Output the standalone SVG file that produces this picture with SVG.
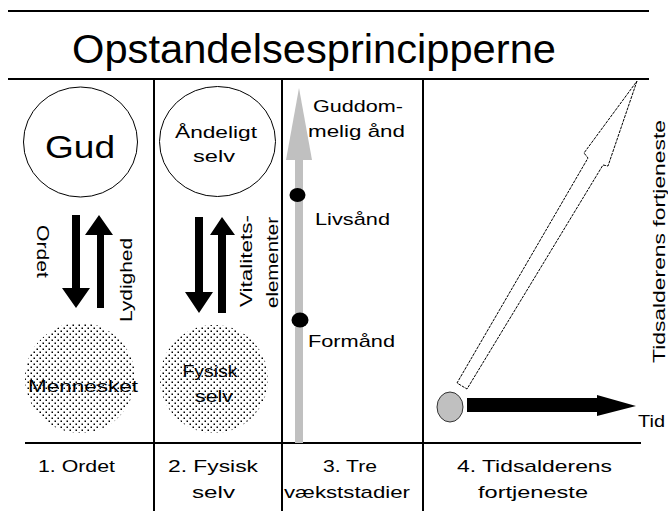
<svg xmlns="http://www.w3.org/2000/svg" width="668" height="511" viewBox="0 0 668 511">
<defs>
<pattern id="dots" width="6" height="6" patternUnits="userSpaceOnUse">
<rect x="0.5" y="0.5" width="1.5" height="1.5" fill="#000"/>
<rect x="3.5" y="3.5" width="1.5" height="1.5" fill="#000"/>
</pattern>
</defs>
<style>
text{font-family:"Liberation Sans",Arial,sans-serif;fill:#000}
.t{font-size:17px}
.c{text-anchor:middle}
.rule{stroke:#000;stroke-width:2;fill:none}
.ring{fill:#fff;stroke:#000;stroke-width:1}
.dotted{fill:url(#dots);stroke:none}
.blk{fill:#000;stroke:none}
</style>
<rect width="668" height="511" fill="#fff"/>

<g id="frame">
<line class="rule" x1="8" y1="11" x2="649" y2="11"/>
<line class="rule" x1="8" y1="79" x2="649" y2="79"/>
<line class="rule" x1="25" y1="443" x2="641" y2="443"/>
<line class="rule" x1="154" y1="79" x2="154" y2="511"/>
<line class="rule" x1="282" y1="79" x2="282" y2="511"/>
<line class="rule" x1="423" y1="79" x2="423" y2="511"/>
</g>

<g id="title">
<text x="72" y="63" font-size="40" textLength="484" lengthAdjust="spacingAndGlyphs">Opstandelsesprincipperne</text>
</g>

<g id="gud">
<ellipse class="ring" cx="80.5" cy="142" rx="57" ry="55"/>
<text x="80" y="158" font-size="32" class="c" textLength="70" lengthAdjust="spacingAndGlyphs">Gud</text>
</g>

<g id="mennesket">
<circle class="dotted" cx="80" cy="378" r="55"/>
<text x="83" y="392" class="t c" textLength="110" lengthAdjust="spacingAndGlyphs">Mennesket</text>
</g>

<g id="andeligt-selv">
<ellipse class="ring" cx="217.5" cy="141.5" rx="58" ry="55"/>
<text x="216" y="138" class="t c" textLength="82" lengthAdjust="spacingAndGlyphs">Åndeligt</text>
<text x="214" y="162" class="t c" textLength="42" lengthAdjust="spacingAndGlyphs">selv</text>
</g>

<g id="fysisk-selv">
<circle class="dotted" cx="214" cy="379" r="54"/>
<text x="210" y="377" class="t c" textLength="55" lengthAdjust="spacingAndGlyphs">Fysisk</text>
<text x="214" y="402" class="t c" textLength="38" lengthAdjust="spacingAndGlyphs">selv</text>
</g>

<g id="vaekst">
<rect x="295" y="159" width="8" height="284" fill="#c0c0c0"/>
<polygon points="299,88 312,160 286,160" fill="#c0c0c0"/>
<ellipse class="blk" cx="297.5" cy="195" rx="8" ry="7"/>
<ellipse class="blk" cx="300" cy="320" rx="8.5" ry="7.5"/>
<text x="313" y="112" class="t" textLength="90" lengthAdjust="spacingAndGlyphs">Guddom-</text>
<text x="308" y="137" class="t" textLength="97" lengthAdjust="spacingAndGlyphs">melig ånd</text>
<text x="315" y="225" class="t" textLength="75" lengthAdjust="spacingAndGlyphs">Livsånd</text>
<text x="308" y="347" class="t" textLength="87" lengthAdjust="spacingAndGlyphs">Formånd</text>
</g>

<g id="tid-origin">
<ellipse cx="450" cy="407" rx="13" ry="15" fill="#c0c0c0" stroke="#333" stroke-width="1"/>
</g>

<g id="connectors">
<polygon class="blk" points="72,215 80,215 80,288 90,288 76,308 62,288 72,288"/>
<polygon class="blk" points="97,308 104,308 104,235 113,235 99,215 85,235 97,235"/>
<polygon class="blk" points="195,217 203,217 203,292 213,292 199,313 185,292 195,292"/>
<polygon class="blk" points="218,313 226,313 226,235 235,235 222,217 210,235 218,235"/>
<polygon class="blk" points="467,398 597,398 597,395 636,406 597,416 597,412 467,412"/>
<polygon points="637,81 608,166 603,165 467,389 457,383 588,158 584,153" fill="#fff" stroke="#000" stroke-width="1" stroke-dasharray="3 1"/>
</g>

<g id="labels">
<text transform="translate(37,251.5) rotate(90)" class="t c" textLength="53" lengthAdjust="spacingAndGlyphs">Ordet</text>
<text transform="translate(132,280) rotate(-90)" class="t c" textLength="84" lengthAdjust="spacingAndGlyphs">Lydighed</text>
<text transform="translate(252,261) rotate(-90)" class="t c" textLength="92" lengthAdjust="spacingAndGlyphs">Vitalitets-</text>
<text transform="translate(278,262.5) rotate(-90)" class="t c" textLength="91" lengthAdjust="spacingAndGlyphs">elementer</text>
<text transform="translate(665,241.5) rotate(-90)" class="t c" textLength="243" lengthAdjust="spacingAndGlyphs">Tidsalderens fortjeneste</text>
<text x="638" y="427" class="t" textLength="27" lengthAdjust="spacingAndGlyphs">Tid</text>
</g>

<g id="footer">
<text x="38" y="472" class="t" textLength="77" lengthAdjust="spacingAndGlyphs">1. Ordet</text>
<text x="168" y="472" class="t" textLength="90" lengthAdjust="spacingAndGlyphs">2. Fysisk</text>
<text x="192" y="498" class="t" textLength="43" lengthAdjust="spacingAndGlyphs">selv</text>
<text x="323" y="472" class="t" textLength="54" lengthAdjust="spacingAndGlyphs">3. Tre</text>
<text x="284" y="498" class="t" textLength="126" lengthAdjust="spacingAndGlyphs">vækststadier</text>
<text x="457" y="472" class="t" textLength="155" lengthAdjust="spacingAndGlyphs">4. Tidsalderens</text>
<text x="478" y="498" class="t" textLength="110" lengthAdjust="spacingAndGlyphs">fortjeneste</text>
</g>
</svg>
